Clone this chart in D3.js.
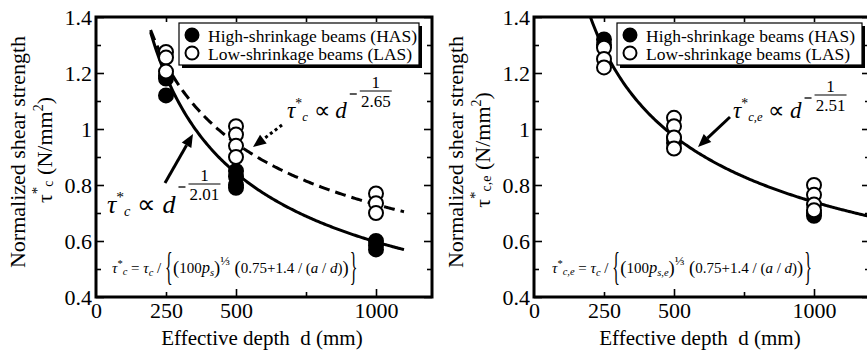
<!DOCTYPE html>
<html>
<head>
<meta charset="utf-8">
<script src="https://cdn.jsdelivr.net/npm/d3@7"></script>
<style>
  body { margin: 0; background: #fff; }
</style>
</head>
<body>
<svg id="chart" width="867" height="353" font-family="Liberation Serif"></svg>
<script>
// data
const depthHASc = [250, 250, 250, 500, 500, 500, 500, 1000, 1000, 1000];
const tauHASc   = [1.12, 1.18, 1.19, 0.85, 0.83, 0.80, 0.79, 0.60, 0.585, 0.57];
const depthLASc = [250, 250, 250, 500, 500, 500, 500, 1000, 1000, 1000];
const tauLASc   = [1.275, 1.255, 1.205, 1.01, 0.98, 0.94, 0.90, 0.77, 0.735, 0.70];

const depthHASe = [250, 250, 500, 500, 1000, 1000];
const tauHASe   = [1.32, 1.30, 0.97, 0.95, 0.70, 0.69];
const depthLASe = [250, 250, 250, 500, 500, 500, 500, 1000, 1000, 1000, 1000];
const tauLASe   = [1.29, 1.25, 1.22, 1.04, 1.01, 0.97, 0.93, 0.80, 0.765, 0.73, 0.71];

// fitted power curves  tau = coef * d^(-1/exponent)
const fitCoef     = [18.55, 9.90, 11.59];
const fitExponent = [2.01, 2.65, 2.51];
const fitStart    = [195, 195, 195];
const fitEnd      = [1100, 1100, 1200];

const legendLabels = ['High-shrinkage beams (HAS)', 'Low-shrinkage beams (LAS)'];
const xLabelTicks = [0, 250, 500, 1000];
const xMajorTicks = [500, 1000];
const xMinorTicks = [250, 750];
const xTopTicks = [250, 500, 750, 1000];
const yLabelTicks = [0.4, 0.6, 0.8, 1.0, 1.2, 1.4];
const yMinorTicks = [0.5, 0.7, 0.9, 1.1, 1.3];

const FONT = 'Liberation Serif';
const svg = d3.select('#chart');
const W = 336, H = 280, top0 = 17;

function piece(t, s, o) {
  o = o || {};
  const ts = t.append('tspan').text(s);
  if (o.i) ts.attr('font-style', 'italic');
  if (o.fs) ts.attr('font-size', o.fs);
  if (o.y !== undefined) ts.attr('y', o.y);
  if (o.dy !== undefined) ts.attr('dy', o.dy);
  return ts;
}

function txt(g, size) {
  return g.append('text').attr('font-family', FONT).attr('font-size', size).attr('fill', '#000');
}

function arrow(g, x1, y1, x2, y2, dotted) {
  const a = Math.atan2(y2 - y1, x2 - x1), len = 13, hw = 5.5;
  const bx = x2 - len * Math.cos(a), by = y2 - len * Math.sin(a);
  g.append('line')
    .attr('x1', x1).attr('y1', y1).attr('x2', bx).attr('y2', by)
    .attr('stroke', '#000').attr('stroke-width', 3)
    .attr('stroke-dasharray', dotted ? '3,3' : null);
  const px = -Math.sin(a) * hw, py = Math.cos(a) * hw;
  g.append('polygon')
    .attr('points', `${x2},${y2} ${bx + px},${by + py} ${bx - px},${by - py}`)
    .attr('fill', '#000');
}

function powerLabel(g, x, y, size, sub, expo, barDy) {
  const t = txt(g, size).attr('x', x).attr('y', y);
  piece(t, 'τ', { i: 1 });
  piece(t, '*', { fs: size * 0.6, y: y - size * 0.42 });
  piece(t, sub, { i: 1, fs: size * 0.55, y: y + 3 });
  piece(t, '\u00a0∝\u00a0', { y: y });
  piece(t, 'd', { i: 1 });
  const end = x + t.node().getComputedTextLength();
  const by = y + barDy;
  g.append('line').attr('x1', end + 3).attr('x2', end + 10)
    .attr('y1', by + 3).attr('y2', by + 3).attr('stroke', '#000').attr('stroke-width', 1.3);
  g.append('line').attr('x1', end + 13).attr('x2', end + 45)
    .attr('y1', by).attr('y2', by).attr('stroke', '#000').attr('stroke-width', 1.2);
  txt(g, 17).attr('x', end + 29).attr('y', by - 3).attr('text-anchor', 'middle').text('1');
  txt(g, 17).attr('x', end + 29).attr('y', by + 16).attr('text-anchor', 'middle').text(expo);
}

function brace(g, x, y, ch) {
  txt(g, 40).attr('transform', `translate(${x},${y + 7}) scale(0.4,1)`).text(ch);
}

function formula(g, x, y, lhsSub, psSub) {
  const fs = 15, sfs = 10.5, pfs = 18.5;
  const t1 = txt(g, fs).attr('x', x).attr('y', y);
  piece(t1, 'τ', { i: 1 });
  piece(t1, '*', { fs: sfs, y: y - 6 });
  piece(t1, lhsSub, { i: 1, fs: sfs, y: y + 2 });
  piece(t1, '\u00a0=\u00a0', { y: y });
  piece(t1, 'τ', { i: 1 });
  piece(t1, 'c', { i: 1, fs: sfs, y: y + 3 });
  piece(t1, '\u00a0/\u00a0', { y: y });
  const b1 = x + t1.node().getComputedTextLength();
  brace(g, b1, y, '{');
  const t2 = txt(g, fs).attr('x', b1 + 8).attr('y', y);
  piece(t2, '(', { fs: pfs, y: y + 1 });
  piece(t2, '100', { y: y });
  piece(t2, 'p', { i: 1, fs: 16.5 });
  piece(t2, psSub, { i: 1, fs: sfs, y: y + 3 });
  piece(t2, ')', { fs: pfs, y: y + 1 });
  piece(t2, '⅓', { fs: 13, y: y - 8 });
  piece(t2, '\u00a0(', { fs: pfs, y: y + 1 });
  piece(t2, '0.75+1.4\u00a0/\u00a0(', { y: y });
  piece(t2, 'a', { i: 1 });
  piece(t2, '\u00a0/\u00a0');
  piece(t2, 'd', { i: 1 });
  piece(t2, ')');
  piece(t2, ')', { fs: pfs, y: y + 1 });
  const b2 = b1 + 8 + t2.node().getComputedTextLength() + 1;
  brace(g, b2, y, '}');
}

function panel(x0, p) {
  const g = svg.append('g').attr('transform', `translate(${x0},${top0})`);
  const x = d3.scaleLinear().domain([0, 1200]).range([0, W]);
  const y = d3.scaleLinear().domain([0.4, 1.4]).range([H, 0]);
  const clipId = 'clip' + x0;
  g.append('clipPath').attr('id', clipId)
    .append('rect').attr('x', -2).attr('y', 0).attr('width', W + 4).attr('height', H);

  // tick marks, all pointing inward
  const tickSets = [
    [d3.axisLeft(y).tickValues(yLabelTicks).tickSize(-8), 0, 0],
    [d3.axisLeft(y).tickValues(yMinorTicks).tickSize(-5), 0, 0],
    [d3.axisRight(y).tickValues(yLabelTicks).tickSize(-8), W, 0],
    [d3.axisRight(y).tickValues(yMinorTicks).tickSize(-5), W, 0],
    [d3.axisBottom(x).tickValues(xMajorTicks).tickSize(-8), 0, H],
    [d3.axisBottom(x).tickValues(xMinorTicks).tickSize(-5), 0, H],
    [d3.axisTop(x).tickValues(xTopTicks).tickSize(-5), 0, 0]
  ];
  tickSets.forEach(([ax, tx, ty]) => {
    const a = g.append('g').attr('transform', `translate(${tx},${ty})`)
      .call(ax.tickFormat('').tickSizeOuter(0));
    a.select('.domain').remove();
    a.selectAll('line').attr('stroke', '#000').attr('stroke-width', 1.6);
  });

  // tick labels
  const yl = g.append('g').call(d3.axisLeft(y).tickValues(yLabelTicks).tickSize(0).tickPadding(4)
    .tickFormat(d => d === 1 ? '1' : d.toFixed(1)));
  const xl = g.append('g').attr('transform', `translate(0,${H})`)
    .call(d3.axisBottom(x).tickValues(xLabelTicks).tickSize(0).tickPadding(5).tickFormat(d3.format('d')));
  [yl, xl].forEach(a => {
    a.select('.domain').remove();
    a.attr('font-family', FONT).attr('font-size', 22);
    a.selectAll('text').attr('fill', '#000');
  });

  // frame
  g.append('rect').attr('width', W).attr('height', H)
    .attr('fill', 'none').attr('stroke', '#000').attr('stroke-width', 3);

  // fitted curves
  const plot = g.append('g').attr('clip-path', `url(#${clipId})`);
  p.fits.forEach(f => {
    const ds = d3.range(fitStart[f.k], fitEnd[f.k] + 1, 5);
    plot.append('path')
      .datum(ds.map(d => [d, fitCoef[f.k] * Math.pow(d, -1 / fitExponent[f.k])]))
      .attr('d', d3.line().x(d => x(d[0])).y(d => y(d[1])))
      .attr('fill', 'none').attr('stroke', '#000').attr('stroke-width', 3)
      .attr('stroke-dasharray', f.dash ? '11,6' : null);
  });

  // markers
  const drawPts = (ds, ts, fill) => {
    plot.selectAll(null).data(ds.map((d, i) => [d, ts[i]])).enter()
      .append('circle')
      .attr('cx', d => x(d[0])).attr('cy', d => y(d[1])).attr('r', 7)
      .attr('fill', fill).attr('stroke', '#000').attr('stroke-width', 2);
  };
  drawPts(p.hasD, p.hasT, '#000');
  drawPts(p.lasD, p.lasT, '#fff');

  // legend
  const lg = g.append('g').attr('transform', `translate(83,6)`);
  lg.append('rect').attr('x', 3).attr('y', 3).attr('width', p.legW).attr('height', 42).attr('fill', '#000');
  lg.append('rect').attr('width', p.legW).attr('height', 42)
    .attr('fill', '#fff').attr('stroke', '#000').attr('stroke-width', 1.2);
  legendLabels.forEach((lab, i) => {
    lg.append('circle').attr('cx', 13).attr('cy', 12 + i * 18).attr('r', 6.5)
      .attr('fill', i === 0 ? '#000' : '#fff').attr('stroke', '#000').attr('stroke-width', 2);
    txt(lg, 17.5).attr('x', 29).attr('y', 18.5 + i * 18).text(lab);
  });

  // axis titles
  txt(g, 21).attr('x', W / 2 - 2).attr('y', 328).attr('text-anchor', 'middle')
    .text('Effective depth\u00a0 d (mm)');
  txt(g, 22).attr('transform', `translate(-71,135) rotate(-90)`)
    .attr('text-anchor', 'middle').text('Normalized shear strength');
  const yt = txt(g, 22).attr('transform', `translate(-44,133) rotate(-90)`)
    .attr('text-anchor', 'middle');
  piece(yt, 'τ');
  piece(yt, '*', { fs: 15, dy: -10 });
  piece(yt, p.sub, { fs: 14, dy: 11 });
  piece(yt, ' (N/mm', { dy: -1 });
  piece(yt, '2', { fs: 14, dy: -9 });
  piece(yt, ')', { dy: 9 });

  p.labels.forEach(l => powerLabel(g, l.x, l.y, l.size, p.sub, l.expo, l.barDy));
  p.arrows.forEach(a => arrow(g, a[0], a[1], a[2], a[3], a[4]));
  formula(g, p.fx, 256, p.sub, p.psSub);
}

panel(96, {
  hasD: depthHASc, hasT: tauHASc, lasD: depthLASc, lasT: tauLASc,
  fits: [{ k: 0, dash: false }, { k: 1, dash: true }],
  legW: 240, sub: 'c', psSub: 's', fx: 16,
  labels: [
    { x: 11, y: 196, size: 26, expo: '2.01', barDy: -29 },
    { x: 191, y: 101, size: 23, expo: '2.65', barDy: -27 }
  ],
  arrows: [[69, 166, 97, 117, false], [186, 108, 157, 130, true]]
});

panel(534, {
  hasD: depthHASe, hasT: tauHASe, lasD: depthLASe, lasT: tauLASe,
  fits: [{ k: 2, dash: false }],
  legW: 245, sub: 'c,e', psSub: 's,e', fx: 18,
  labels: [
    { x: 199, y: 101, size: 23, expo: '2.51', barDy: -23 }
  ],
  arrows: [[196, 100, 164, 130, false]]
});
</script>
</body>
</html>
